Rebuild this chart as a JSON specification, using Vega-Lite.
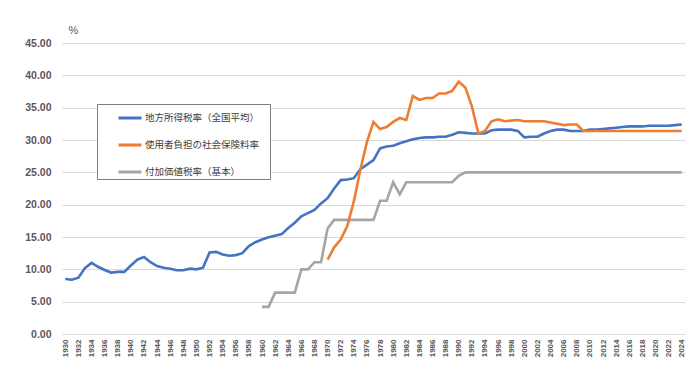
{
  "$schema": "https://vega.github.io/schema/vega-lite/v6.json",
  "width": 623,
  "height": 291,
  "autosize": {"type": "none"},
  "padding": {"left": 62, "top": 43, "right": 15, "bottom": 41},
  "background": "white",
  "data": {"values": [
    {"year": 1930, "地方所得税率（全国平均）": 8.5},
    {"year": 1931, "地方所得税率（全国平均）": 8.4},
    {"year": 1932, "地方所得税率（全国平均）": 8.7},
    {"year": 1933, "地方所得税率（全国平均）": 10.2},
    {"year": 1934, "地方所得税率（全国平均）": 11.0},
    {"year": 1935, "地方所得税率（全国平均）": 10.4},
    {"year": 1936, "地方所得税率（全国平均）": 9.9},
    {"year": 1937, "地方所得税率（全国平均）": 9.5},
    {"year": 1938, "地方所得税率（全国平均）": 9.6},
    {"year": 1939, "地方所得税率（全国平均）": 9.6},
    {"year": 1940, "地方所得税率（全国平均）": 10.6},
    {"year": 1941, "地方所得税率（全国平均）": 11.5},
    {"year": 1942, "地方所得税率（全国平均）": 11.9},
    {"year": 1943, "地方所得税率（全国平均）": 11.1},
    {"year": 1944, "地方所得税率（全国平均）": 10.5},
    {"year": 1945, "地方所得税率（全国平均）": 10.25},
    {"year": 1946, "地方所得税率（全国平均）": 10.1},
    {"year": 1947, "地方所得税率（全国平均）": 9.85},
    {"year": 1948, "地方所得税率（全国平均）": 9.85},
    {"year": 1949, "地方所得税率（全国平均）": 10.1},
    {"year": 1950, "地方所得税率（全国平均）": 10.0},
    {"year": 1951, "地方所得税率（全国平均）": 10.25},
    {"year": 1952, "地方所得税率（全国平均）": 12.6},
    {"year": 1953, "地方所得税率（全国平均）": 12.7},
    {"year": 1954, "地方所得税率（全国平均）": 12.3},
    {"year": 1955, "地方所得税率（全国平均）": 12.1},
    {"year": 1956, "地方所得税率（全国平均）": 12.2},
    {"year": 1957, "地方所得税率（全国平均）": 12.5},
    {"year": 1958, "地方所得税率（全国平均）": 13.6},
    {"year": 1959, "地方所得税率（全国平均）": 14.2},
    {"year": 1960, "地方所得税率（全国平均）": 14.6, "付加価値税率（基本）": 4.2},
    {"year": 1961, "地方所得税率（全国平均）": 14.95, "付加価値税率（基本）": 4.2},
    {"year": 1962, "地方所得税率（全国平均）": 15.2, "付加価値税率（基本）": 6.4},
    {"year": 1963, "地方所得税率（全国平均）": 15.45, "付加価値税率（基本）": 6.4},
    {"year": 1964, "地方所得税率（全国平均）": 16.4, "付加価値税率（基本）": 6.4},
    {"year": 1965, "地方所得税率（全国平均）": 17.2, "付加価値税率（基本）": 6.4},
    {"year": 1966, "地方所得税率（全国平均）": 18.2, "付加価値税率（基本）": 10.0},
    {"year": 1967, "地方所得税率（全国平均）": 18.7, "付加価値税率（基本）": 10.0},
    {"year": 1968, "地方所得税率（全国平均）": 19.2, "付加価値税率（基本）": 11.1},
    {"year": 1969, "地方所得税率（全国平均）": 20.2, "付加価値税率（基本）": 11.1},
    {"year": 1970, "地方所得税率（全国平均）": 21.0, "使用者負担の社会保険料率": 11.5, "付加価値税率（基本）": 16.3},
    {"year": 1971, "地方所得税率（全国平均）": 22.5, "使用者負担の社会保険料率": 13.4, "付加価値税率（基本）": 17.65},
    {"year": 1972, "地方所得税率（全国平均）": 23.8, "使用者負担の社会保険料率": 14.6, "付加価値税率（基本）": 17.65},
    {"year": 1973, "地方所得税率（全国平均）": 23.9, "使用者負担の社会保険料率": 16.7, "付加価値税率（基本）": 17.65},
    {"year": 1974, "地方所得税率（全国平均）": 24.1, "使用者負担の社会保険料率": 20.5, "付加価値税率（基本）": 17.65},
    {"year": 1975, "地方所得税率（全国平均）": 25.5, "使用者負担の社会保険料率": 25.4, "付加価値税率（基本）": 17.65},
    {"year": 1976, "地方所得税率（全国平均）": 26.2, "使用者負担の社会保険料率": 29.7, "付加価値税率（基本）": 17.65},
    {"year": 1977, "地方所得税率（全国平均）": 26.9, "使用者負担の社会保険料率": 32.8, "付加価値税率（基本）": 17.65},
    {"year": 1978, "地方所得税率（全国平均）": 28.7, "使用者負担の社会保険料率": 31.7, "付加価値税率（基本）": 20.6},
    {"year": 1979, "地方所得税率（全国平均）": 29.0, "使用者負担の社会保険料率": 32.0, "付加価値税率（基本）": 20.6},
    {"year": 1980, "地方所得税率（全国平均）": 29.1, "使用者負担の社会保険料率": 32.8, "付加価値税率（基本）": 23.46},
    {"year": 1981, "地方所得税率（全国平均）": 29.5, "使用者負担の社会保険料率": 33.4, "付加価値税率（基本）": 21.6},
    {"year": 1982, "地方所得税率（全国平均）": 29.8, "使用者負担の社会保険料率": 33.1, "付加価値税率（基本）": 23.46},
    {"year": 1983, "地方所得税率（全国平均）": 30.1, "使用者負担の社会保険料率": 36.8, "付加価値税率（基本）": 23.46},
    {"year": 1984, "地方所得税率（全国平均）": 30.3, "使用者負担の社会保険料率": 36.2, "付加価値税率（基本）": 23.46},
    {"year": 1985, "地方所得税率（全国平均）": 30.4, "使用者負担の社会保険料率": 36.5, "付加価値税率（基本）": 23.46},
    {"year": 1986, "地方所得税率（全国平均）": 30.4, "使用者負担の社会保険料率": 36.5, "付加価値税率（基本）": 23.46},
    {"year": 1987, "地方所得税率（全国平均）": 30.5, "使用者負担の社会保険料率": 37.2, "付加価値税率（基本）": 23.46},
    {"year": 1988, "地方所得税率（全国平均）": 30.5, "使用者負担の社会保険料率": 37.2, "付加価値税率（基本）": 23.46},
    {"year": 1989, "地方所得税率（全国平均）": 30.8, "使用者負担の社会保険料率": 37.6, "付加価値税率（基本）": 23.46},
    {"year": 1990, "地方所得税率（全国平均）": 31.2, "使用者負担の社会保険料率": 39.0, "付加価値税率（基本）": 24.46},
    {"year": 1991, "地方所得税率（全国平均）": 31.1, "使用者負担の社会保険料率": 38.1, "付加価値税率（基本）": 25.0},
    {"year": 1992, "地方所得税率（全国平均）": 31.0, "使用者負担の社会保険料率": 35.2, "付加価値税率（基本）": 25.0},
    {"year": 1993, "地方所得税率（全国平均）": 31.0, "使用者負担の社会保険料率": 31.0, "付加価値税率（基本）": 25.0},
    {"year": 1994, "地方所得税率（全国平均）": 31.0, "使用者負担の社会保険料率": 31.4, "付加価値税率（基本）": 25.0},
    {"year": 1995, "地方所得税率（全国平均）": 31.5, "使用者負担の社会保険料率": 32.9, "付加価値税率（基本）": 25.0},
    {"year": 1996, "地方所得税率（全国平均）": 31.6, "使用者負担の社会保険料率": 33.2, "付加価値税率（基本）": 25.0},
    {"year": 1997, "地方所得税率（全国平均）": 31.6, "使用者負担の社会保険料率": 32.9, "付加価値税率（基本）": 25.0},
    {"year": 1998, "地方所得税率（全国平均）": 31.6, "使用者負担の社会保険料率": 33.0, "付加価値税率（基本）": 25.0},
    {"year": 1999, "地方所得税率（全国平均）": 31.4, "使用者負担の社会保険料率": 33.1, "付加価値税率（基本）": 25.0},
    {"year": 2000, "地方所得税率（全国平均）": 30.4, "使用者負担の社会保険料率": 32.9, "付加価値税率（基本）": 25.0},
    {"year": 2001, "地方所得税率（全国平均）": 30.5, "使用者負担の社会保険料率": 32.9, "付加価値税率（基本）": 25.0},
    {"year": 2002, "地方所得税率（全国平均）": 30.5, "使用者負担の社会保険料率": 32.9, "付加価値税率（基本）": 25.0},
    {"year": 2003, "地方所得税率（全国平均）": 31.0, "使用者負担の社会保険料率": 32.9, "付加価値税率（基本）": 25.0},
    {"year": 2004, "地方所得税率（全国平均）": 31.4, "使用者負担の社会保険料率": 32.7, "付加価値税率（基本）": 25.0},
    {"year": 2005, "地方所得税率（全国平均）": 31.6, "使用者負担の社会保険料率": 32.5, "付加価値税率（基本）": 25.0},
    {"year": 2006, "地方所得税率（全国平均）": 31.6, "使用者負担の社会保険料率": 32.3, "付加価値税率（基本）": 25.0},
    {"year": 2007, "地方所得税率（全国平均）": 31.4, "使用者負担の社会保険料率": 32.4, "付加価値税率（基本）": 25.0},
    {"year": 2008, "地方所得税率（全国平均）": 31.4, "使用者負担の社会保険料率": 32.4, "付加価値税率（基本）": 25.0},
    {"year": 2009, "地方所得税率（全国平均）": 31.4, "使用者負担の社会保険料率": 31.4, "付加価値税率（基本）": 25.0},
    {"year": 2010, "地方所得税率（全国平均）": 31.6, "使用者負担の社会保険料率": 31.4, "付加価値税率（基本）": 25.0},
    {"year": 2011, "地方所得税率（全国平均）": 31.6, "使用者負担の社会保険料率": 31.4, "付加価値税率（基本）": 25.0},
    {"year": 2012, "地方所得税率（全国平均）": 31.7, "使用者負担の社会保険料率": 31.4, "付加価値税率（基本）": 25.0},
    {"year": 2013, "地方所得税率（全国平均）": 31.8, "使用者負担の社会保険料率": 31.4, "付加価値税率（基本）": 25.0},
    {"year": 2014, "地方所得税率（全国平均）": 31.9, "使用者負担の社会保険料率": 31.4, "付加価値税率（基本）": 25.0},
    {"year": 2015, "地方所得税率（全国平均）": 32.0, "使用者負担の社会保険料率": 31.4, "付加価値税率（基本）": 25.0},
    {"year": 2016, "地方所得税率（全国平均）": 32.1, "使用者負担の社会保険料率": 31.4, "付加価値税率（基本）": 25.0},
    {"year": 2017, "地方所得税率（全国平均）": 32.1, "使用者負担の社会保険料率": 31.4, "付加価値税率（基本）": 25.0},
    {"year": 2018, "地方所得税率（全国平均）": 32.1, "使用者負担の社会保険料率": 31.4, "付加価値税率（基本）": 25.0},
    {"year": 2019, "地方所得税率（全国平均）": 32.2, "使用者負担の社会保険料率": 31.4, "付加価値税率（基本）": 25.0},
    {"year": 2020, "地方所得税率（全国平均）": 32.2, "使用者負担の社会保険料率": 31.4, "付加価値税率（基本）": 25.0},
    {"year": 2021, "地方所得税率（全国平均）": 32.2, "使用者負担の社会保険料率": 31.4, "付加価値税率（基本）": 25.0},
    {"year": 2022, "地方所得税率（全国平均）": 32.2, "使用者負担の社会保険料率": 31.4, "付加価値税率（基本）": 25.0},
    {"year": 2023, "地方所得税率（全国平均）": 32.3, "使用者負担の社会保険料率": 31.4, "付加価値税率（基本）": 25.0},
    {"year": 2024, "地方所得税率（全国平均）": 32.4, "使用者負担の社会保険料率": 31.4, "付加価値税率（基本）": 25.0}
  ]},
  "transform": [
    {"fold": ["地方所得税率（全国平均）", "使用者負担の社会保険料率", "付加価値税率（基本）"], "as": ["series", "value"]},
    {"filter": "isValid(datum.value)"}
  ],
  "mark": {"type": "line", "strokeWidth": 2.6},
  "encoding": {
    "x": {
      "field": "year", "type": "quantitative",
      "scale": {"domain": [1929.5, 2024.5], "nice": false, "zero": false},
      "axis": {
        "values": [1930,1932,1934,1936,1938,1940,1942,1944,1946,1948,1950,1952,1954,1956,1958,1960,1962,1964,1966,1968,1970,1972,1974,1976,1978,1980,1982,1984,1986,1988,1990,1992,1994,1996,1998,2000,2002,2004,2006,2008,2010,2012,2014,2016,2018,2020,2022,2024],
        "format": "d", "labelAngle": -90, "labelFontSize": 8, "labelFontWeight": "bold",
        "labelFont": "Liberation Sans", "labelColor": "#595959", "ticks": false,
        "domainColor": "#d9d9d9", "grid": false, "title": null, "labelPadding": 5, "labelFlush": false, "labelOverlap": false
      }
    },
    "y": {
      "field": "value", "type": "quantitative",
      "scale": {"domain": [0, 45], "nice": false},
      "axis": {
        "values": [0,5,10,15,20,25,30,35,40,45], "format": ".2f",
        "title": "%", "titleAngle": 0, "titleAlign": "left", "titleBaseline": "middle",
        "titleX": 6, "titleY": -13, "titleFontWeight": "normal", "titleColor": "#595959",
        "titleFontSize": 11, "titleFont": "Liberation Sans",
        "domain": false, "ticks": false, "gridColor": "#d9d9d9", "labelPadding": 11,
        "labelFontSize": 10.5, "labelFontWeight": "bold", "labelFont": "Liberation Sans", "labelColor": "#595959"
      }
    },
    "color": {
      "field": "series", "type": "nominal",
      "scale": {"domain": ["地方所得税率（全国平均）", "使用者負担の社会保険料率", "付加価値税率（基本）"], "range": ["#4472C4", "#ED7D31", "#A5A5A5"]},
      "legend": {
        "orient": "none", "legendX": 35, "legendY": 61,
        "title": "\u3000", "titleOrient": "right", "titlePadding": 10, "titleFontSize": 2,
        "symbolType": "stroke", "symbolSize": 529, "symbolStrokeWidth": 3,
        "fillColor": "white", "strokeColor": "#7f7f7f", "padding": 1,
        "symbolOffset": 19, "labelOffset": 2, "rowPadding": 8,
        "labelFont": "Noto Sans CJK JP", "labelFontSize": 9.5, "labelColor": "#404040"
      }
    }
  },
  "config": {"view": {"stroke": null}}
}
